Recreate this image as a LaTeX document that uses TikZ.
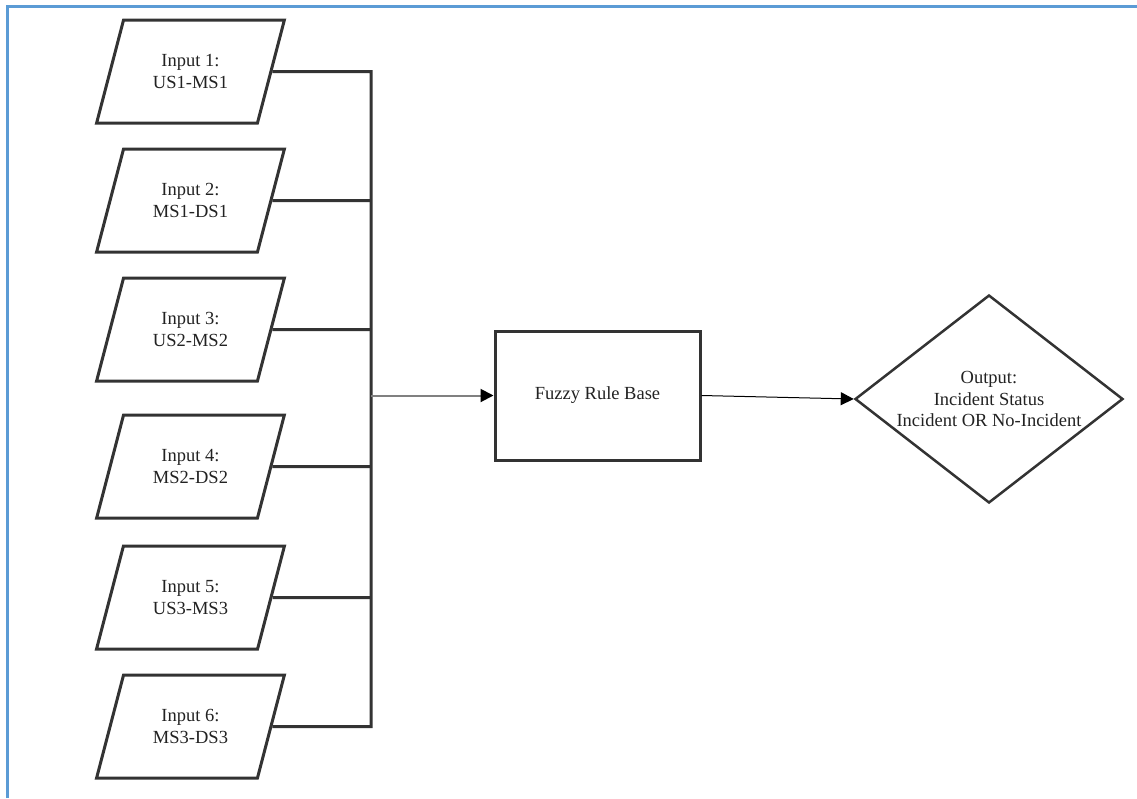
\documentclass[tikz,border=0pt]{standalone}
\usepackage{fontspec}
\setmainfont{Liberation Serif}
\usetikzlibrary{shapes.geometric,arrows.meta}
\definecolor{frameblue}{HTML}{5B9BD5}
\definecolor{ink}{HTML}{333333}
\definecolor{label}{HTML}{222222}
\definecolor{feed}{HTML}{808080}
\begin{document}
\begin{tikzpicture}[x=1pt,y=-1pt,
  txt/.style={font=\rmfamily\fontsize{18.5}{21.5}\selectfont, text=label, align=center},
  inbox/.style={txt, trapezium, trapezium left angle=66, trapezium right angle=114,
    trapezium stretches=true, minimum width=188, minimum height=103,
    draw=ink, line width=3pt, inner sep=0pt},
  rulebox/.style={txt, rectangle, minimum width=205, minimum height=129,
    draw=ink, line width=3pt},
  outbox/.style={txt, diamond, aspect=1.288, minimum width=268, minimum height=208,
    draw=ink, line width=2.5pt, inner sep=0pt},
  bus/.style={draw=ink, line width=3pt},
  tip/.style={-{Triangle[length=13pt,width=13pt]}}
]
\useasboundingbox (0,0) rectangle (1137,798);
% frame on the top and left edges
\draw[frameblue, line width=3pt] (7,798) -- (7,6) -- (1137,6);

% inputs
\node[inbox] (in1) at (190.5,71.5) {Input 1:\\US1-MS1};
\node[inbox] (in2) at (190.5,200.5) {Input 2:\\MS1-DS1};
\node[inbox] (in3) at (190.5,329.5) {Input 3:\\US2-MS2};
\node[inbox] (in4) at (190.5,466.5) {Input 4:\\MS2-DS2};
\node[inbox] (in5) at (190.5,597.5) {Input 5:\\US3-MS3};
\node[inbox] (in6) at (190.5,726.5) {Input 6:\\MS3-DS3};

% collecting bus
\coordinate (b1) at (371,71.5);
\coordinate (b2) at (371,200.5);
\coordinate (b3) at (371,329.5);
\coordinate (b4) at (371,466.5);
\coordinate (b5) at (371,597.5);
\coordinate (b6) at (371,726.5);
\coordinate (bj) at (371,395.5);

\node[rulebox] (fz) at (597.5,395.5) {Fuzzy Rule Base};
\node[outbox] (out) at (989,399) {Output:\\Incident Status\\Incident OR No-Incident};

\draw[bus] (in1.east) -- (b1) -- (b6) -- (in6.east);
\draw[bus] (in2.east) -- (b2);
\draw[bus] (in3.east) -- (b3);
\draw[bus] (in4.east) -- (b4);
\draw[bus] (in5.east) -- (b5);

% arrows
\draw[draw=feed, line width=2pt, -{Triangle[length=13pt,width=13pt,fill=black,color=black]}] (bj) -- (fz.west);
\draw[tip, draw=black, line width=1pt] (fz.east) -- (out.west);
\end{tikzpicture}
\end{document}
